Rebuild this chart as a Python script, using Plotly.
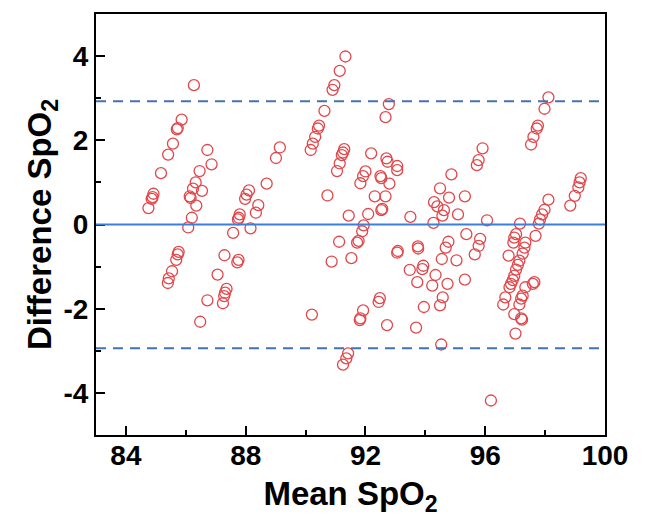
import plotly.graph_objects as go

# Bland-Altman data: mean of the two SpO2 readings vs their difference
mean_spo2 = [
    84.75, 84.86, 84.89, 84.92, 85.17, 85.41, 85.57, 85.70, 85.73, 85.86, 86.27,
    85.40, 85.43, 85.54, 85.68, 85.73, 85.76,
    86.08, 86.20, 86.13, 86.16, 86.35, 86.24, 86.33, 86.54, 86.46, 86.86, 86.72,
    86.48, 86.72, 87.06, 87.29, 87.36, 87.31, 87.28, 87.24,
    87.58, 87.74, 87.77, 87.80, 87.72, 87.76, 87.98, 88.03, 88.11, 88.16, 88.34, 88.42, 88.70, 89.01, 89.14,
    90.17, 90.24, 90.32, 90.41, 90.45, 90.63, 90.90, 90.96, 91.14, 91.33,
    90.21, 90.73, 90.87, 91.05, 91.14, 91.21, 91.25, 91.29,
    91.12, 91.25, 91.36, 91.42, 91.44, 91.53,
    91.72, 91.77, 91.89, 91.94, 91.83, 91.92, 92.00, 92.09, 92.19,
    91.81, 91.83, 91.92,
    92.31, 92.44, 92.48, 92.50, 92.53, 92.53, 92.56, 92.67, 92.67, 92.70, 92.74, 92.78, 92.80, 92.72,
    93.06, 93.06, 93.06, 93.08, 93.48, 93.50, 93.69, 93.73, 93.75, 93.76, 93.90, 93.93, 93.95,
    94.23, 94.27, 94.29, 94.34, 94.40, 94.49, 94.49, 94.53, 94.55, 94.57, 94.58, 94.62, 94.68,
    94.74, 94.77, 94.79, 94.87,
    95.04, 95.09, 95.32, 95.32, 95.37, 95.65, 95.72, 95.78, 95.78, 95.83, 95.91, 96.06, 96.19,
    96.60, 96.67, 96.78, 96.81, 96.86, 96.92, 96.94, 96.97, 96.97, 96.97, 97.01, 97.03, 97.03,
    97.09, 97.14, 97.14, 97.16, 97.20, 97.20, 97.23, 97.25, 97.25, 97.31, 97.34, 97.34,
    97.59, 97.64, 97.68, 97.79, 97.83, 97.90, 97.98, 98.11,
    97.53, 97.61, 97.72, 97.76, 97.98, 98.11,
    98.84, 98.99, 99.11, 99.15, 99.19,
]
diff_spo2 = [
    0.39, 0.61, 0.65, 0.73, 1.22, 1.66, 1.92, 2.26, 2.29, 2.49, 3.31,
    -1.39, -1.28, -1.11, -0.84, -0.71, -0.65,
    -0.07, 0.16, 0.67, 0.63, 0.45, 0.85, 1.00, 0.80, 1.27, 1.43, 1.77,
    -2.31, -1.80, -1.19, -0.73, -1.53, -1.62, -1.70, -1.87,
    -0.20, 0.12, 0.16, 0.24, -0.90, -0.84, 0.61, 0.71, 0.81, -0.09, 0.28, 0.46, 0.97, 1.58, 1.83,
    1.77, 1.92, 2.08, 2.28, 2.35, 2.70, 3.20, 3.31, 3.65, 3.99,
    -2.14, 0.69, -0.88, 1.27, 1.45, 1.65, 1.71, 1.79,
    -0.41, -3.33, -3.18, -3.06, 0.21, -0.80,
    -0.43, -0.39, -0.16, -0.02, 0.98, 1.15, 1.26, 0.25, 1.69,
    -2.27, -2.23, -2.04,
    0.67, -1.84, -1.75, 1.15, 1.10, 0.34, 0.37, 0.67, 2.55, 1.57, 1.49, 2.86, 0.97, -2.39,
    1.39, 1.29, -0.67, -0.63, -1.08, 0.18, -2.45, -1.37, -0.52, -0.57, -1.06, -0.98, -1.96,
    -1.45, 0.04, 0.53, -1.20, 0.43, 0.86, -1.92, -2.85, -0.82, 0.21, -1.73, 0.34, -0.55,
    -1.41, -0.41, 0.64, 1.19,
    -0.85, 0.24, 0.67, -1.31, -0.23, -0.71, 1.41, 1.53, -0.51, -0.34, 1.81, 0.10, -4.18,
    -1.90, -1.73, -0.74, -1.49, -1.41, -1.32, -0.43, -0.31, -1.22, -2.13, -2.59, -0.23, -1.07,
    -0.96, -0.86, -1.90, 0.02, -1.76, -2.23, -2.26, -0.69, -1.69, -0.55, -0.43, -1.49,
    -1.41, -1.37, -0.27, 0.02, 0.12, 0.24, 0.35, 0.59,
    1.90, 2.08, 2.28, 2.35, 2.75, 3.02,
    0.45, 0.68, 0.88, 1.00, 1.10,
]

# bias and limits of agreement
mean_diff = 0.0
upper_loa = 2.93
lower_loa = -2.94

x_ticks = [84, 88, 92, 96, 100]
y_ticks = [-4, -2, 0, 2, 4]
y_ticktext = ["-4", "-2", "0", "2", "4"]

fig = go.Figure()
fig.add_trace(go.Scatter(
    x=mean_spo2, y=diff_spo2, mode="markers",
    marker=dict(symbol="circle-open", size=11, color="#e2474b", line=dict(width=1.3)),
    showlegend=False,
))

fig.add_hline(y=mean_diff, line=dict(color="#3a7fdc", width=2))
fig.add_hline(y=upper_loa, line=dict(color="#4473b3", width=2, dash="10px,7px"))
fig.add_hline(y=lower_loa, line=dict(color="#4473b3", width=2, dash="10px,7px"))

font_name = "Liberation Sans, Arial, sans-serif"
axis_common = dict(
    showline=True, linecolor="black", linewidth=2, mirror=True,
    ticks="inside", ticklen=9, tickwidth=1.5, tickcolor="black",
    showgrid=False, zeroline=False,
    tickfont=dict(family=font_name, size=28, color="black", weight="bold"),
)

fig.update_xaxes(
    range=[83, 100], tickvals=x_ticks, ticklabelstandoff=-6,
    minor=dict(ticks="inside", ticklen=5, tickwidth=1.5, tickcolor="black", dtick=2, tick0=84),
    title=dict(text="Mean SpO<sub>2</sub>", standoff=12,
               font=dict(family=font_name, size=33, color="black", weight="bold")),
    **axis_common,
)
fig.update_yaxes(
    range=[-5, 5], tickvals=y_ticks, ticktext=y_ticktext,
    minor=dict(ticks="inside", ticklen=5, tickwidth=1.5, tickcolor="black", dtick=1, tick0=0),
    title=dict(text="Difference SpO<sub>2</sub>", standoff=2,
               font=dict(family=font_name, size=33, color="black", weight="bold")),
    **axis_common,
)

fig.update_layout(
    width=645, height=519,
    margin=dict(l=88, r=48, t=4, b=92),
    plot_bgcolor="white", paper_bgcolor="white",
)

fig.write_html("out.html")
